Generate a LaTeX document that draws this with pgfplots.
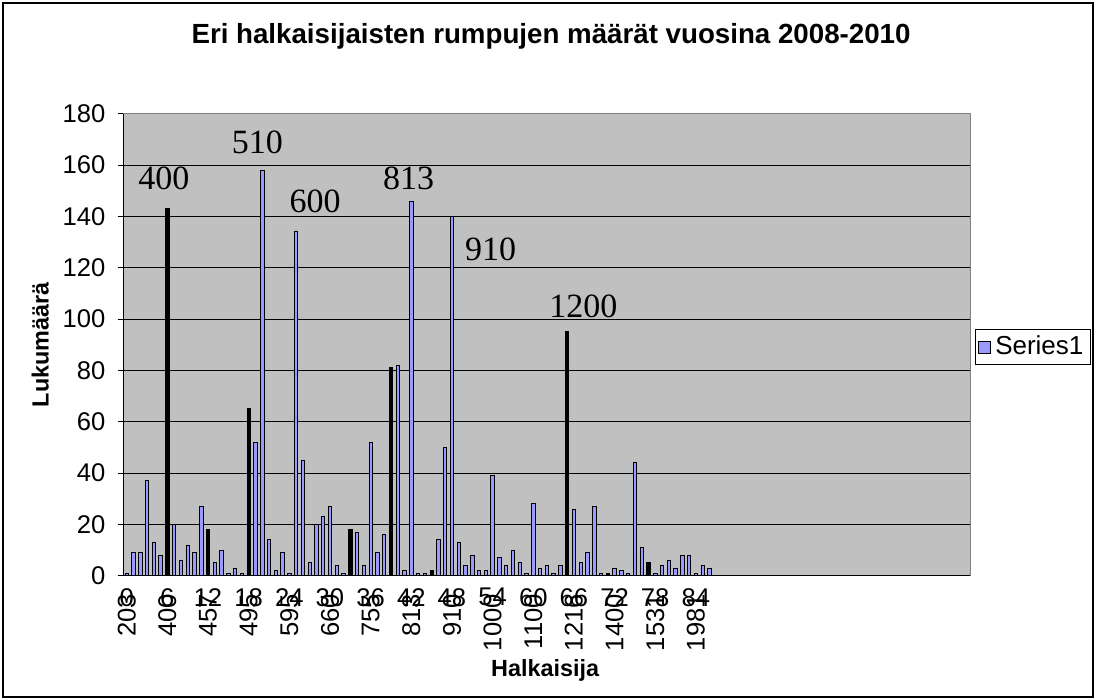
\documentclass[border=0pt]{standalone}
\usepackage{pgfplots}
\pgfplotsset{compat=1.18}
\usepackage{fontspec}
\setmainfont{Liberation Sans}
\newfontfamily\seriffont{Liberation Serif}
\definecolor{barblue}{HTML}{9999FF}
\definecolor{plotgray}{HTML}{C0C0C0}
\definecolor{framegray}{HTML}{808080}
\tikzset{xl/.style={rotate=90, anchor=east, inner sep=0pt, font=\fontsize{12.8}{13}\selectfont}}

\pgfplotstableread{
x y
0 1
1 9
2 9
3 37
4 13
5 8
6 143
7 20
8 6
9 12
10 9
11 27
12 18
13 5
14 10
15 1
16 3
17 1
18 65
19 52
20 158
21 14
22 2
23 9
24 1
25 134
26 45
27 5
28 20
29 23
30 27
31 4
32 1
33 18
34 17
35 4
36 52
37 9
38 16
39 81
40 82
41 2
42 146
43 1
44 1
45 2
46 14
47 50
48 140
49 13
50 4
51 8
52 2
53 2
54 39
55 7
56 4
57 10
58 5
59 1
60 28
61 3
62 4
63 1
64 4
65 95
66 26
67 5
68 9
69 27
70 1
71 1
72 3
73 2
74 1
75 44
76 11
77 5
78 1
79 4
80 6
81 3
82 8
83 8
84 1
85 4
86 3
}\seriesone

\pgfplotstableread{
x y
6 143
12 18
18 65
33 18
39 81
45 2
65 95
71 1
77 5
}\thinbars

\begin{document}
\begin{tikzpicture}
\path[fill=white] (0pt,0pt) rectangle (548pt,-350pt);
\draw[black, line width=0.6pt] (1.5pt,-1.5pt) rectangle (546.5pt,-348.5pt);
\begin{axis}[
  at={(61.65pt,-287.85pt)}, anchor=south west,
  scale only axis, width=423.5pt, height=231pt,
  xmin=-0.5, xmax=124.5, ymin=0, ymax=180,
  ytick={0,20,...,180},
  xtick={0,6,...,84},
  xticklabel={},
  minor xtick={-0.5,0.5,...,124.5},
  tick align=outside, tick pos=left,
  xtick style={draw=none},
  minor x tick style={black, line width=0.5pt},
  minor tick length=2.8pt,
  ytick style={black, line width=0.5pt},
  major tick length=2.8pt,
  ymajorgrids, xmajorgrids=false,
  grid style={black, line width=0.5pt},
  axis background/.style={fill=plotgray},
  axis line style={framegray, line width=0.5pt},
  /pgf/number format/assume math mode=true,
  tick label style={font=\fontsize{12.8}{13}\selectfont},
  y tick label style={anchor=east, inner sep=0pt, xshift=-6pt},
  title={Eri halkaisijaisten rumpujen määrät vuosina 2008-2010},
  title style={font=\bfseries\fontsize{13.85}{14}\selectfont, at={(axis description cs:0.505,1.142)}, anchor=center, yshift=0pt},
  xlabel={Halkaisija},
  xlabel style={font=\bfseries\fontsize{11.7}{12}\selectfont, at={(axis description cs:0.498,-0.206)}, anchor=center, yshift=0pt},
  ylabel={Lukumäärä},
  ylabel style={font=\bfseries\fontsize{11.7}{12}\selectfont, at={(axis description cs:-0.098,0.5)}, anchor=center, rotate=0},
  legend style={at={(axis description cs:1.0055,0.495)}, anchor=west, draw=black, line width=0.5pt, fill=white,
    font=\fontsize{13}{13}\selectfont, inner xsep=1.5pt, inner ysep=1.2pt, cells={anchor=west}},
  legend image code/.code={\draw[fill=barblue, draw=black, line width=0.4pt] (0pt,-3pt) rectangle (6pt,3pt);},
  clip=false,
]
\addplot[ybar, bar width=1.7pt, bar shift=0pt, fill=barblue, draw=black, line width=0.4pt] table[x=x, y=y] {\seriesone};
\addlegendentry{Series1}
\addplot[ybar, bar width=0.9pt, bar shift=0pt, fill=black, draw=black, line width=0.3pt, forget plot] table[x=x, y=y] {\thinbars};
\draw[black, line width=0.6pt] (rel axis cs:0,0) -- (rel axis cs:0,1);
\draw[black, line width=0.6pt] (rel axis cs:0,0) -- (rel axis cs:1,0);
\node[xl] at ([yshift=-9pt]axis cs:0,0) {203};
\node[xl] at ([yshift=-9pt]axis cs:6,0) {400};
\node[xl] at ([yshift=-9pt]axis cs:12,0) {457};
\node[xl] at ([yshift=-9pt]axis cs:18,0) {495};
\node[xl] at ([yshift=-9pt]axis cs:24,0) {595};
\node[xl] at ([yshift=-9pt]axis cs:30,0) {660};
\node[xl] at ([yshift=-9pt]axis cs:36,0) {755};
\node[xl] at ([yshift=-9pt]axis cs:42,0) {813};
\node[xl] at ([yshift=-9pt]axis cs:48,0) {910};
\node[xl] at ([yshift=-9pt]axis cs:54,0) {1000};
\node[xl] at ([yshift=-9pt]axis cs:60,0) {1100};
\node[xl] at ([yshift=-9pt]axis cs:66,0) {1216};
\node[xl] at ([yshift=-9pt]axis cs:72,0) {1400};
\node[xl] at ([yshift=-9pt]axis cs:78,0) {1531};
\node[xl] at ([yshift=-9pt]axis cs:84,0) {1981};
\node[font=\seriffont\fontsize{17}{17}\selectfont] at (axis cs:5.5,155) {400};
\node[font=\seriffont\fontsize{17}{17}\selectfont] at (axis cs:19.3,169) {510};
\node[font=\seriffont\fontsize{17}{17}\selectfont] at (axis cs:27.8,146) {600};
\node[font=\seriffont\fontsize{17}{17}\selectfont] at (axis cs:41.6,155) {813};
\node[font=\seriffont\fontsize{17}{17}\selectfont] at (axis cs:53.7,127) {910};
\node[font=\seriffont\fontsize{17}{17}\selectfont] at (axis cs:67.4,105) {1200};
\end{axis}
\end{tikzpicture}
\end{document}
